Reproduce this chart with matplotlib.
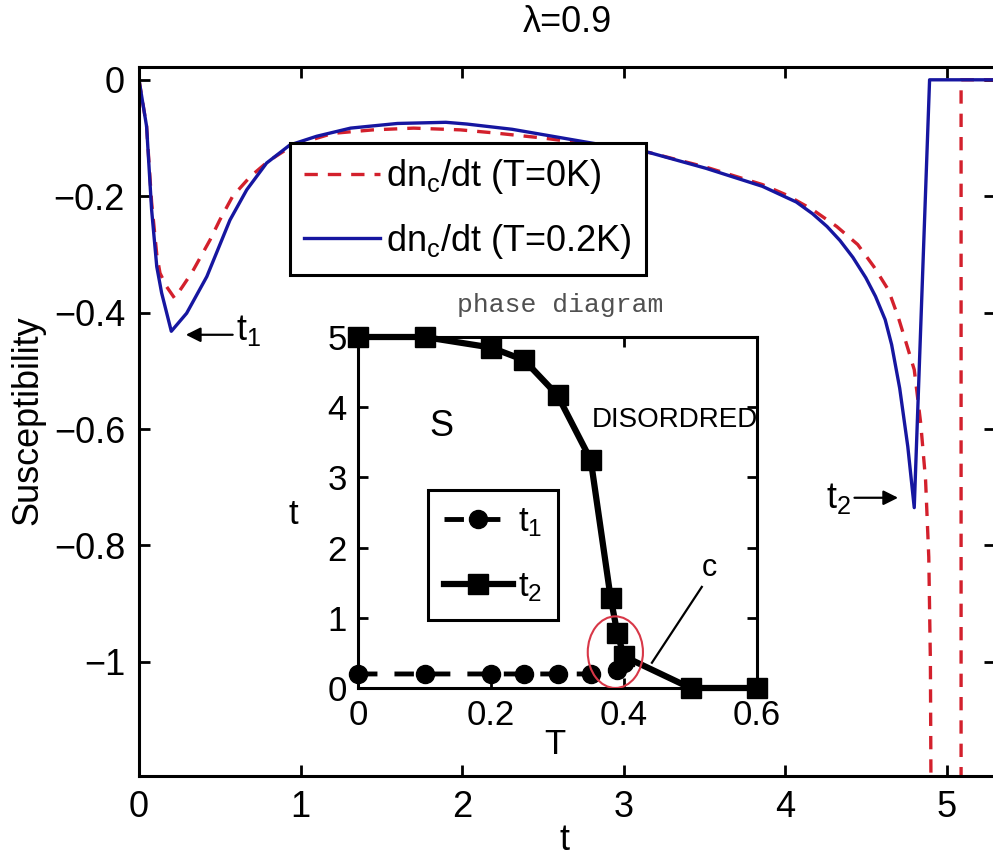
import matplotlib
matplotlib.use("Agg")
import matplotlib.pyplot as plt
from matplotlib.patches import Ellipse
from matplotlib.lines import Line2D

plt.rcParams['font.family'] = ['Liberation Sans', 'DejaVu Sans']
plt.rcParams['mathtext.default'] = 'regular'

# ---- main curves: susceptibility dn_c/dt versus t ----
t_red = [0, 0.047, 0.078, 0.11, 0.13, 0.17, 0.22, 0.27, 0.33, 0.44, 0.50, 0.58,
         0.69, 0.80, 0.95, 1.2, 1.45, 1.70, 1.99, 2.19, 2.5, 2.81, 3.16, 3.51,
         3.86, 4.01, 4.17, 4.32, 4.45, 4.55, 4.64, 4.70, 4.75, 4.80, 4.84, 4.87,
         4.89, 4.90, 4.905, 5.09, 5.09, 5.3]
s_red = [0, -0.08, -0.21, -0.30, -0.332, -0.355, -0.375, -0.355, -0.33, -0.275,
         -0.241, -0.200, -0.166, -0.140, -0.113, -0.092, -0.086, -0.083, -0.086,
         -0.091, -0.100, -0.111, -0.125, -0.150, -0.180, -0.198, -0.223, -0.252,
         -0.283, -0.321, -0.361, -0.407, -0.452, -0.498, -0.59, -0.687, -0.82,
         -1.0, -1.3, -1.3, 0.0, 0.0]

t_blue = [0, 0.047, 0.078, 0.11, 0.14, 0.20, 0.295, 0.42, 0.563, 0.667, 0.79,
          0.934, 1.10, 1.31, 1.6, 1.90, 2.03, 2.31, 2.81, 3.16, 3.51, 3.86, 4.07,
          4.17, 4.26, 4.34, 4.42, 4.50, 4.56, 4.62, 4.66, 4.71, 4.76, 4.80, 4.895,
          5.3]
s_blue = [0, -0.08, -0.223, -0.321, -0.366, -0.432, -0.401, -0.338, -0.241,
          -0.189, -0.143, -0.112, -0.097, -0.083, -0.075, -0.073, -0.076, -0.085,
          -0.109, -0.125, -0.152, -0.183, -0.210, -0.230, -0.252, -0.276, -0.305,
          -0.340, -0.372, -0.412, -0.455, -0.530, -0.630, -0.735, 0.0, 0.0]

main_xticks = [0, 1, 2, 3, 4, 5]
main_yticks = [0, -0.2, -0.4, -0.6, -0.8, -1]
main_yticklabels = ['0', '\u22120.2', '\u22120.4', '\u22120.6', '\u22120.8', '\u22121']

# ---- inset: phase diagram ----
T_t1 = [0, 0.1, 0.2, 0.25, 0.3, 0.35, 0.39, 0.40]
t1 = [0.2, 0.2, 0.2, 0.2, 0.2, 0.2, 0.25, 0.35]
T_t2 = [0, 0.1, 0.2, 0.25, 0.3, 0.35, 0.38, 0.39, 0.40, 0.5, 0.6]
t2 = [5.0, 5.0, 4.85, 4.67, 4.17, 3.25, 1.28, 0.78, 0.45, 0.0, 0.0]
inset_xticks = [0, 0.2, 0.4, 0.6]
inset_yticks = [0, 1, 2, 3, 4, 5]

W, H = 993, 861
fig = plt.figure(figsize=(W / 100, H / 100), dpi=100)

def fx(px):
    return px / W

def fy(py):
    return 1 - py / H

RED = '#d3202c'
BLUE = '#1616a0'
FS = 26

ax = fig.add_axes([fx(139), fy(776), fx(995) - fx(139), fy(67) - fy(776)])
ax.plot(t_red, s_red, color=RED, lw=2.4, ls=(0, (4, 3)), label='dn$_c$/dt (T=0K)')
ax.plot(t_blue, s_blue, color=BLUE, lw=2.4, label='dn$_c$/dt (T=0.2K)')
ax.set_xlim(0, 5.3)
ax.set_ylim(-1.196, 0.022)
ax.set_xticks(main_xticks)
ax.set_xticklabels([str(v) for v in main_xticks])
ax.set_yticks(main_yticks)
ax.set_yticklabels(main_yticklabels)
ax.tick_params(direction='in', length=8, width=2, labelsize=FS, top=True,
               right=True, pad=10)
for sp in ax.spines.values():
    sp.set_linewidth(2.2)

leg = ax.legend(loc='upper left', bbox_to_anchor=(fx(290), fy(143)),
                bbox_transform=fig.transFigure, fontsize=FS, frameon=True,
                fancybox=False, framealpha=1, edgecolor='k', handlelength=2.1,
                handletextpad=0.15, borderpad=0.4, labelspacing=0.7,
                borderaxespad=0)
leg.get_frame().set_linewidth(2.2)

# markers for the two transition points
ax.annotate('', xy=(0.29, -0.438), xytext=(0.58, -0.438),
            arrowprops=dict(arrowstyle='-|>', color='k', lw=1.6, mutation_scale=22,
                            shrinkA=0, shrinkB=0))
ax.text(0.6, -0.43, 't$_1$', fontsize=FS, ha='left', va='center')
ax.annotate('', xy=(4.70, -0.718), xytext=(4.43, -0.718),
            arrowprops=dict(arrowstyle='-|>', color='k', lw=1.6, mutation_scale=22,
                            shrinkA=0, shrinkB=0))
ax.text(4.41, -0.72, 't$_2$', fontsize=FS, ha='right', va='center')

fig.text(fx(567), fy(23), '\u03bb=0.9', fontsize=FS, ha='center', va='center')
fig.text(fx(565), fy(840), 't', fontsize=FS, ha='center', va='center')
fig.text(fx(28), fy(420), 'Susceptibility', fontsize=FS, ha='center', va='center',
         rotation=90)

# inset
axi = fig.add_axes([fx(358), fy(688), fx(757) - fx(358), fy(337) - fy(688)])
axi.set_facecolor('white')
axi.plot(T_t1, t1, color='k', lw=3.5, ls=(0, (4, 3.5)), marker='o', ms=13,
         clip_on=False, zorder=3)
axi.plot(T_t2, t2, color='k', lw=4.5, marker='s', ms=14, clip_on=False, zorder=4)
axi.set_xlim(0, 0.6)
axi.set_ylim(0, 5)
axi.set_xticks(inset_xticks)
axi.set_xticklabels(['0', '0.2', '0.4', '0.6'])
axi.set_yticks(inset_yticks)
axi.tick_params(direction='in', length=7, width=2, labelsize=25, top=True,
                right=True, pad=8)
for sp in axi.spines.values():
    sp.set_linewidth(2.2)

axi.add_patch(Ellipse((0.387, 0.51), 0.083, 1.02, fill=False, ec='#d83848',
                      lw=1.5, zorder=6))
axi.plot([0.442, 0.517], [0.36, 1.44], color='k', lw=1.6, zorder=5)
axi.text(0.529, 1.71, 'c', fontsize=22, ha='center', va='center')
axi.text(0.126, 3.72, 'S', fontsize=26, ha='center', va='center')
axi.text(0.352, 3.82, 'DISORDRED', fontsize=20, ha='left', va='center')

h1 = Line2D([], [], color='k', lw=3.5, ls=(0, (4, 3.5)), marker='o', ms=13)
h2 = Line2D([], [], color='k', lw=4.5, marker='s', ms=14)
leg2 = axi.legend([h1, h2], ['t$_1$', 't$_2$'], loc='upper left',
                  bbox_to_anchor=(fx(428), fy(490)), bbox_transform=fig.transFigure,
                  fontsize=25, frameon=True, fancybox=False, framealpha=1,
                  edgecolor='k', handlelength=2.0, handletextpad=0.15,
                  borderpad=0.45, labelspacing=0.9, borderaxespad=0)
leg2.get_frame().set_linewidth(2.2)

fig.text(fx(560), fy(305), 'phase diagram', fontsize=19, family='Liberation Mono',
         color='#505050', ha='center', va='center')
fig.text(fx(555), fy(745), 'T', fontsize=25, ha='center', va='center')
fig.text(fx(293), fy(515), 't', fontsize=25, ha='center', va='center')

fig.savefig('out.png', dpi=100)
